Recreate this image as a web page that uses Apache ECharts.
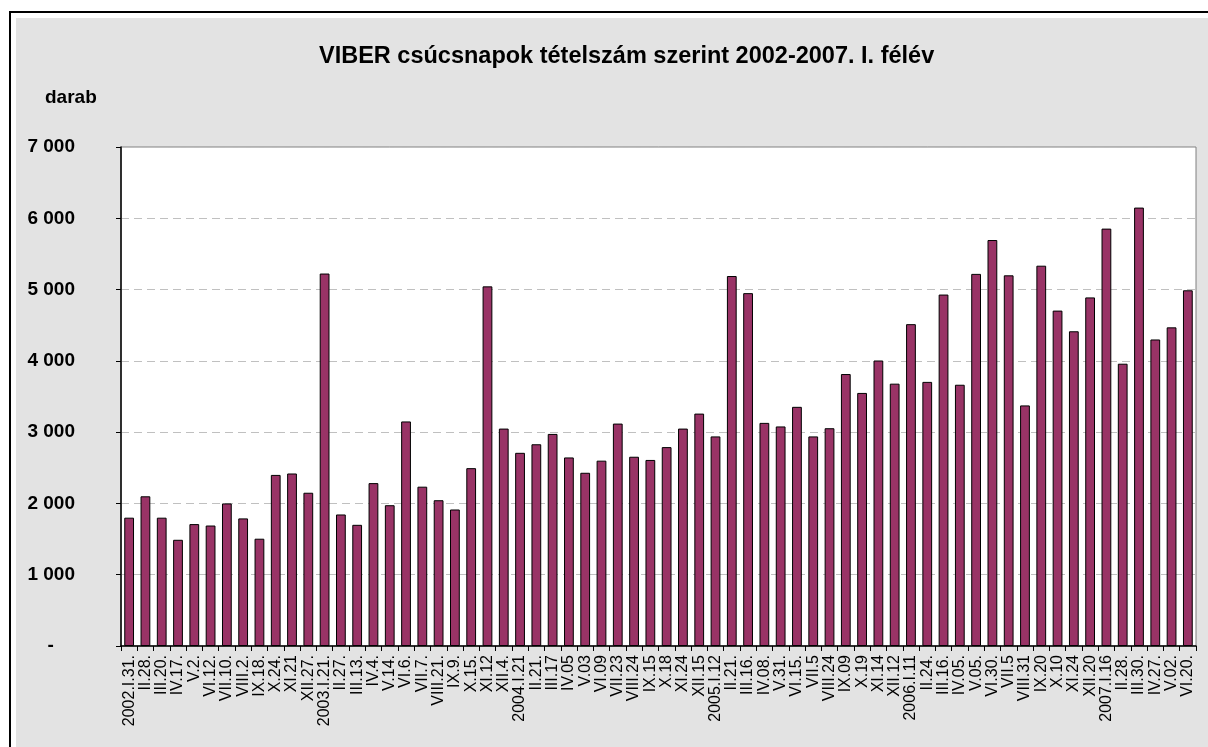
<!DOCTYPE html>
<html>
<head>
<meta charset="utf-8">
<script src="https://cdn.jsdelivr.net/npm/echarts@6/dist/echarts.min.js"></script>
<style>
html,body{margin:0;padding:0;background:#fff;}
#c{width:1208px;height:747px;}
</style>
</head>
<body>
<div id="c"></div>
<script>
const titleText = 'VIBER csúcsnapok tételszám szerint 2002-2007. I. félév';
const unitLabel = 'darab';
const categories = [
  '2002.I.31.','II.28.','III.20.','IV.17.','V.2.','VI.12.','VII.10.','VIII.2.','IX.18.','X.24.','XI.21','XII.27.',
  '2003.I.21.','II.27.','III.13.','IV.4.','V.14.','VI.6.','VII.7.','VIII.21.','IX.9.','X.15.','XI.12','XII.4.',
  '2004.I.21','II.21.','III.17','IV.05','V.03','VI.09','VII.23','VIII.24','IX.15','X.18','XI.24','XII.15',
  '2005.I.12','II.21.','III.16.','IV.08.','V.31.','VI.15.','VII.5','VIII.24','IX.09','X.19','XI.14','XII.12',
  '2006.I.11','II.24.','III.16.','IV.05.','V.05.','VI.30.','VII.5','VIII.31','IX.20','X.10','XI.24','XII.20',
  '2007.I.16','II.28.','III.30.','IV.27.','V.02.','VI.20.'
];
const values = [
  1800, 2100, 1800, 1490, 1710, 1690, 2000, 1790, 1505, 2400, 2420, 2150,
  5225, 1845, 1700, 2285, 1975, 3150, 2235, 2045, 1915, 2495, 5045, 3050,
  2710, 2830, 2975, 2645, 2430, 2600, 3120, 2655, 2610, 2790, 3050, 3260,
  2940, 5190, 4950, 3130, 3080, 3355, 2940, 3055, 3815, 3550, 4005, 3680,
  4515, 3705, 4930, 3665, 5220, 5695, 5200, 3375, 5335, 4705, 4415, 4890,
  5855, 3960, 6150, 4300, 4470, 4990
];
const yMin = 0, yMax = 7000, yStep = 1000;

const FONT = "'Liberation Sans', Arial, sans-serif";
const chart = echarts.init(document.getElementById('c'), null, {renderer: 'canvas'});

function fmtY(v) {
  if (v === 0) return '-\u00a0\u00a0\u00a0\u00a0';
  const s = String(Math.round(v));
  return s.replace(/\B(?=(\d{3})+(?!\d))/g, ' ');
}

chart.setOption({
  backgroundColor: '#ffffff',
  animation: false,
  graphic: [
    { type: 'rect', z: -10, silent: true, shape: { x: 16, y: 18, width: 1200, height: 740 }, style: { fill: '#e3e3e3' } },
    { type: 'rect', z: -9, silent: true, shape: { x: 10, y: 12, width: 1210, height: 750 }, style: { fill: 'none', stroke: '#000', lineWidth: 2 } }
  ],
  title: [
    { text: titleText, left: 314, top: 40, textStyle: { fontFamily: FONT, fontWeight: 'bold', fontSize: 23.5, color: '#000' } },
    { text: unitLabel, left: 40, top: 83, textStyle: { fontFamily: FONT, fontWeight: 'bold', fontSize: 19, color: '#000' } }
  ],
  grid: {
    left: 121, right: 12, top: 147, bottom: 101,
    show: true, backgroundColor: '#ffffff', borderColor: '#808080', borderWidth: 1
  },
  xAxis: {
    type: 'category',
    data: categories,
    boundaryGap: true,
    axisLine: { lineStyle: { color: '#000', width: 1.5 } },
    axisTick: { show: true, alignWithLabel: false, interval: 0, length: 5, lineStyle: { color: '#000' } },
    axisLabel: { interval: 0, rotate: 90, margin: 9, fontFamily: FONT, fontSize: 16, color: '#000' },
    splitLine: { show: false }
  },
  yAxis: {
    type: 'value',
    min: yMin, max: yMax, interval: yStep,
    axisLine: { show: true, lineStyle: { color: '#000', width: 1.5 } },
    axisTick: { show: true, length: 5, lineStyle: { color: '#000' } },
    axisLabel: { margin: 46, formatter: fmtY, fontFamily: FONT, fontWeight: 'bold', fontSize: 19, color: '#000' },
    splitLine: { show: true, lineStyle: { color: '#c0c0c0', type: [8, 5], width: 1 } }
  },
  series: [{
    type: 'bar',
    data: values,
    barWidth: '60%',
    itemStyle: { color: '#993366', borderColor: '#000', borderWidth: 1 },
    silent: true
  }]
});
</script>
</body>
</html>
